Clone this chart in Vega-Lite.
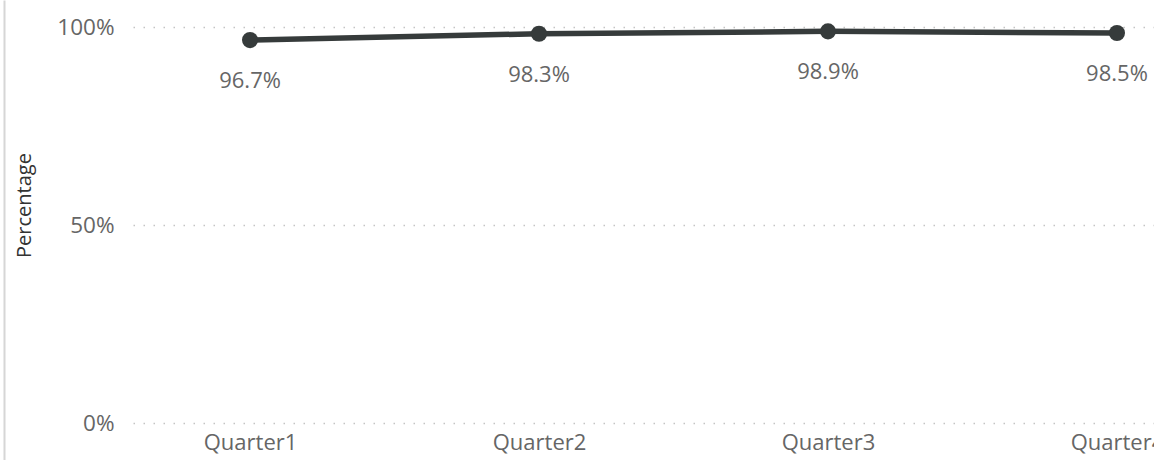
{
  "$schema": "https://vega.github.io/schema/vega-lite/v6.json",
  "autosize": {"type": "none"},
  "width": 1101,
  "height": 396,
  "padding": {"left": 133, "top": 27, "right": 0, "bottom": 37},
  "background": "#ffffff",
  "config": {
    "view": {"stroke": null},
    "font": "Open Sans",
    "axis": {
      "labelFont": "Open Sans",
      "titleFont": "Open Sans",
      "labelColor": "#666666",
      "titleColor": "#333333"
    }
  },
  "data": {
    "values": [
      {"quarter": "Quarter1", "pct": 0.967},
      {"quarter": "Quarter2", "pct": 0.983},
      {"quarter": "Quarter3", "pct": 0.989},
      {"quarter": "Quarter4", "pct": 0.985}
    ]
  },
  "encoding": {
    "x": {
      "field": "quarter",
      "type": "nominal",
      "sort": null,
      "scale": {"type": "point", "padding": 0.405},
      "axis": {
        "title": null,
        "labelAngle": 0,
        "labelFontSize": 22,
        "labelPadding": 9,
        "domain": false,
        "ticks": false,
        "grid": false
      }
    }
  },
  "layer": [
    {
      "layer": [
        {
          "mark": {"type": "line", "color": "#363b3b", "strokeWidth": 5.5},
          "encoding": {
            "y": {
              "field": "pct",
              "type": "quantitative",
              "scale": {"domain": [0, 1]},
              "axis": {
                "title": "Percentage",
                "titleFontSize": 20,
                "titleFontWeight": "normal",
                "titleX": -109,
                "titleY": 178,
                "titleBaseline": "middle",
                "values": [0, 0.5, 1],
                "format": ".0%",
                "labelFontSize": 22.5,
                "labelPadding": 19,
                "domain": false,
                "ticks": false,
                "grid": true,
                "gridColor": "#c4c4c4",
                "gridDash": [1.5, 8.5],
                "gridWidth": 1.5
              }
            }
          }
        },
        {
          "mark": {"type": "point", "filled": true, "color": "#363b3b", "size": 260, "opacity": 1},
          "encoding": {"y": {"field": "pct", "type": "quantitative"}}
        },
        {
          "mark": {"type": "text", "dy": 41, "fontSize": 22, "color": "#666666", "font": "Open Sans"},
          "encoding": {
            "y": {"field": "pct", "type": "quantitative"},
            "text": {"field": "pct", "type": "quantitative", "format": ".1%"}
          }
        }
      ]
    },
    {
      "mark": {"type": "point", "opacity": 0},
      "encoding": {
        "y": {
          "field": "pct",
          "type": "quantitative",
          "scale": {"domain": [0, 1], "range": [433, -27]},
          "axis": {
            "orient": "left",
            "offset": 129,
            "title": null,
            "labels": false,
            "ticks": false,
            "grid": false,
            "domain": true,
            "domainColor": "#d6d6d6",
            "domainWidth": 2
          }
        }
      }
    }
  ],
  "resolve": {"scale": {"y": "independent"}, "axis": {"y": "independent"}}
}
